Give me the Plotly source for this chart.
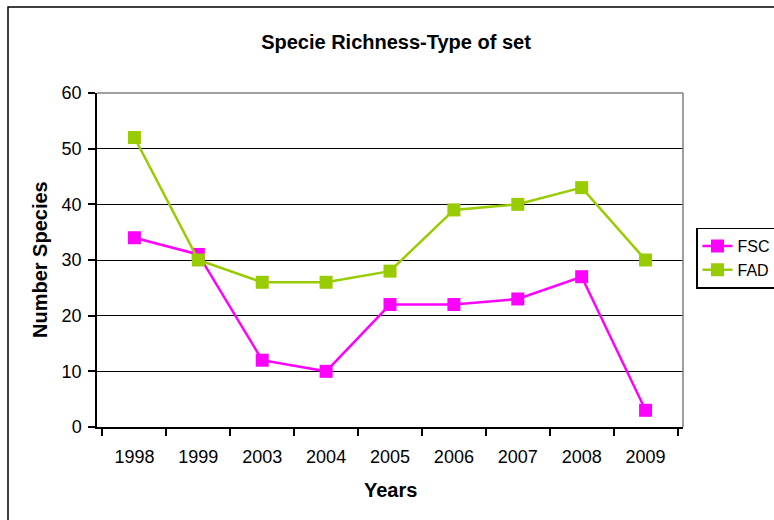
import plotly.graph_objects as go

years = ["1998", "1999", "2003", "2004", "2005", "2006", "2007", "2008", "2009"]
fsc = [34, 31, 12, 10, 22, 22, 23, 27, 3]
fad = [52, 30, 26, 26, 28, 39, 40, 43, 30]

W, H = 774, 520
L, R, T, B = 97, 91, 93, 93
pw, ph = W - L - R, H - T - B

def px_x(x):
    return (x - L) / pw

def px_y(y):
    return (H - B - y) / ph

font = "Liberation Sans, Arial, sans-serif"

fig = go.Figure()
fig.add_trace(go.Scatter(
    x=years, y=fsc, name="FSC", mode="lines+markers",
    line=dict(color="#FF00FF", width=2.5),
    marker=dict(symbol="square", size=13, color="#FF00FF"),
))
fig.add_trace(go.Scatter(
    x=years, y=fad, name="FAD", mode="lines+markers",
    line=dict(color="#99CC00", width=2.5),
    marker=dict(symbol="square", size=13, color="#99CC00"),
))

fig.update_layout(
    width=W, height=H,
    margin=dict(l=L, r=R, t=T, b=B, pad=0, autoexpand=False),
    paper_bgcolor="white", plot_bgcolor="white",
    font=dict(family=font, size=18, color="black"),
    showlegend=True,
    legend=dict(
        x=px_x(696), y=px_y(258), xanchor="left", yanchor="middle",
        bordercolor="black", borderwidth=1.5, bgcolor="white",
        font=dict(size=16), tracegroupgap=2,
    ),
    title=dict(
        text="<b>Specie Richness-Type of set</b>",
        x=px_x(396), xref="paper", xanchor="center",
        y=1 - 42 / H, yref="container", yanchor="middle",
        font=dict(size=20, family=font, color="black"),
    ),
    xaxis=dict(
        type="category", tickson="boundaries",
        showgrid=False, showline=True, linecolor="black", linewidth=1.5,
        ticks="outside", ticklen=7, tickcolor="black", tickwidth=1.5,
        tickfont=dict(size=18), zeroline=False, ticklabelstandoff=13,
    ),
    yaxis=dict(
        range=[0, 60], dtick=10, showgrid=True, gridcolor="black", gridwidth=1,
        showline=True, linecolor="black", linewidth=1.5,
        ticks="outside", ticklen=7, tickcolor="black", tickwidth=1.5,
        tickfont=dict(size=18), zeroline=False, ticklabelstandoff=3,
    ),
    annotations=[
        dict(text="<b>Number Species</b>", textangle=-90,
             x=px_x(40), y=0.5, xref="paper", yref="paper",
             xanchor="center", yanchor="middle", showarrow=False,
             font=dict(size=20, family=font)),
        dict(text="<b>Years</b>",
             x=px_x(390), y=px_y(490), xref="paper", yref="paper",
             xanchor="center", yanchor="middle", showarrow=False,
             font=dict(size=20, family=font)),
    ],
    shapes=[
        # outer chart frame
        dict(type="rect", xref="paper", yref="paper",
             x0=px_x(8), x1=px_x(800), y0=px_y(540), y1=px_y(7),
             line=dict(color="black", width=1.5), layer="below"),
        # plot area border (top and right)
        dict(type="line", xref="paper", yref="paper",
             x0=0, x1=1, y0=1, y1=1,
             line=dict(color="#808080", width=1.5), layer="above"),
        dict(type="line", xref="paper", yref="paper",
             x0=1, x1=1, y0=0, y1=1,
             line=dict(color="#808080", width=1.5), layer="above"),
    ],
)

fig.write_html("out.html")
